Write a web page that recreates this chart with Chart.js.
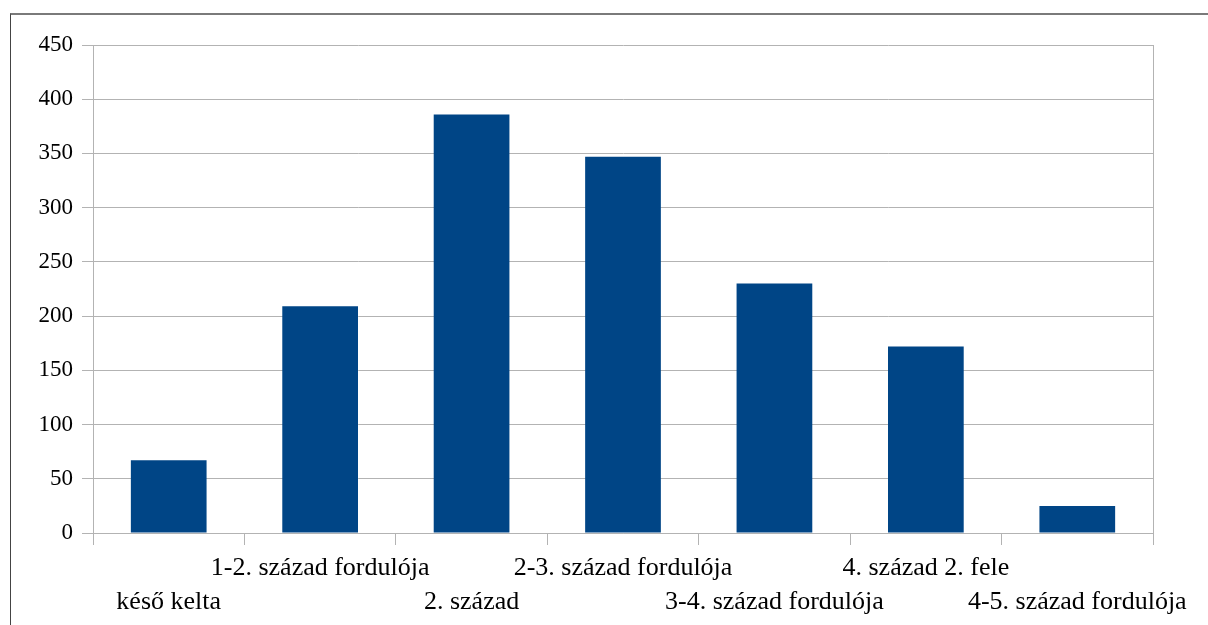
<!DOCTYPE html>
<html>
<head>
<meta charset="utf-8">
<script src="https://cdn.jsdelivr.net/npm/chart.js@4"></script>
<style>
  html, body { margin: 0; padding: 0; background: #fff; }
  #wrap { position: relative; width: 1208px; height: 625px; overflow: hidden; }
  #frame { position: absolute; left: 10px; top: 13px; width: 1200px; height: 620px;
           border-top: 2px solid #7a7a7a; border-left: 1px solid #444; }
  canvas { position: absolute; left: 0; top: 0; }
</style>
</head>
<body>
<div id="wrap">
  <div id="frame"></div>
  <canvas id="chart" width="1208" height="625"></canvas>
</div>
<script>
// kategóriák és értékek
const categories = ['késő kelta', '1-2. század fordulója', '2. század', '2-3. század fordulója',
  '3-4. század fordulója', '4. század 2. fele', '4-5. század fordulója'];
const values = [67, 209, 386, 347, 230, 172, 25];
const yTicks = [0, 50, 100, 150, 200, 250, 300, 350, 400, 450];

const GRID = '#b3b3b3';
const FAMILY = '"Liberation Serif", "DejaVu Serif", serif';

new Chart(document.getElementById('chart'), {
  type: 'bar',
  data: {
    labels: categories,
    datasets: [{
      data: values,
      backgroundColor: '#004586',
      barPercentage: 0.5,
      categoryPercentage: 1,
    }],
  },
  options: {
    responsive: false,
    animation: false,
    layout: { padding: { top: 45, right: 55, bottom: 0, left: 0 } },
    plugins: { legend: { display: false }, tooltip: { enabled: false } },
    scales: {
      x: {
        offset: true,
        grid: { offset: true, drawOnChartArea: false, color: GRID, tickLength: 12 },
        border: { color: GRID },
        ticks: {
          color: '#000', font: { family: FAMILY, size: 26, lineHeight: 1.3 },
          autoSkip: false, maxRotation: 0, minRotation: 0, padding: 6,
          callback: (v, i) => i % 2 ? [categories[i], ''] : ['', categories[i]],
        },
        afterFit: s => { s.height = 92; },
      },
      y: {
        min: 0, max: 450,
        afterBuildTicks: s => { s.ticks = yTicks.map(v => ({ value: v })); },
        grid: { color: GRID, tickLength: 11 },
        border: { color: GRID },
        ticks: { color: '#000', font: { family: FAMILY, size: 23 }, padding: 9 },
        afterFit: s => { s.width = 93; },
      },
      y2: {
        position: 'right', min: 0, max: 450,
        grid: { display: false },
        border: { color: GRID },
        ticks: { display: false },
        afterFit: s => { s.width = 0; },
      },
    },
  },
});
</script>
</body>
</html>
